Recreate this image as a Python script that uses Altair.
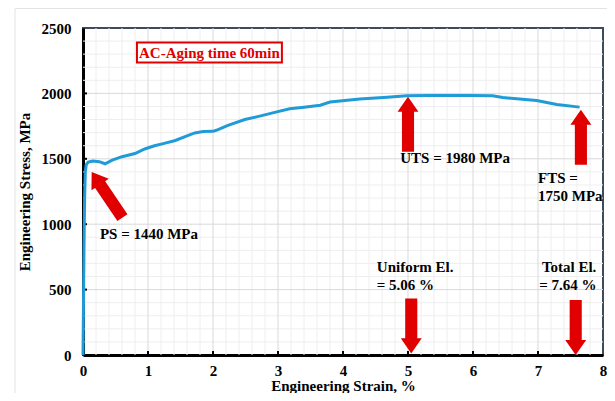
import altair as alt
import numpy as np
import pandas as pd

# --- curve data ---
strain = [0.0, 0.015, 0.025, 0.035, 0.05, 0.08, 0.15, 0.25, 0.34, 0.45, 0.6, 0.8, 0.95,
          1.1, 1.25, 1.42, 1.6, 1.72, 1.85, 2.0, 2.05, 2.23, 2.49, 2.75, 2.95, 3.18, 3.4,
          3.65, 3.8, 4.26, 4.68, 4.98, 5.3, 5.95, 6.3, 6.46, 6.98, 7.29, 7.64]
stress = [0, 800, 1200, 1400, 1455, 1475, 1483, 1478, 1462, 1490, 1516, 1540, 1575,
          1600, 1618, 1640, 1675, 1698, 1708, 1710, 1718, 1756, 1800, 1830, 1855, 1883, 1895,
          1910, 1934, 1957, 1970, 1982, 1983, 1984, 1982, 1968, 1946, 1915, 1895]

# --- annotations ---
arrow_x = [0.37, 5.0, 7.66, 5.05, 7.58]
arrow_y = [1225, 1765, 1665, 222, 210]
arrow_angle = [326, 0, 0, 180, 180]

labels = ["PS = 1440 MPa", "UTS = 1980 MPa", "FTS =", "1750 MPa",
          "Uniform El.", "= 5.06 %", "Total El.", "= 7.64 %"]
label_x = [0.26, 4.88, 7.0, 7.0, 4.52, 4.52, 7.06, 7.02]
label_y = [926, 1508, 1355, 1217, 670, 536, 670, 536]

box_text = ["AC-Aging time 60min"]
box_x = [0.83]
box_x2 = [3.06]
box_y = [2389]
box_y2 = [2236]

x_ticks = [0, 1, 2, 3, 4, 5, 6, 7, 8]
y_ticks = [0, 500, 1000, 1500, 2000, 2500]

FONT = "Liberation Serif"
RED = "#e00000"
BLUE = "#1f9bd7"

W, H = 520, 327

xs = alt.Scale(domain=[0, 8], nice=False, zero=False)
ys = alt.Scale(domain=[0, 2500], nice=False, zero=False)

minor_x = [v for v in np.round(np.arange(0.2, 8.0, 0.2), 2) if abs(v - round(v)) > 1e-6]
minor_y = [v for v in range(100, 2500, 100) if v % 500 != 0]

curve = pd.DataFrame({"strain": strain, "stress": stress})
arrows = pd.DataFrame({"x": arrow_x, "y": arrow_y, "angle": arrow_angle})
texts = pd.DataFrame({"x": label_x, "y": label_y, "t": labels})
box = pd.DataFrame({"x": box_x, "x2": box_x2, "y": box_y, "y2": box_y2, "t": box_text})

frame = alt.Chart(pd.DataFrame({"a": [0]})).mark_rect(
    fill=None, stroke="#e3e3e3", strokeWidth=1
).encode(x=alt.value(-68), x2=alt.value(530), y=alt.value(-19.5), y2=alt.value(420))

gx_minor = alt.Chart(pd.DataFrame({"v": minor_x})).mark_rule(color="#eeeeee", strokeWidth=1).encode(
    x=alt.X("v:Q", scale=xs))
gy_minor = alt.Chart(pd.DataFrame({"v": minor_y})).mark_rule(color="#eeeeee", strokeWidth=1).encode(
    y=alt.Y("v:Q", scale=ys))
gx_major = alt.Chart(pd.DataFrame({"v": x_ticks[1:-1]})).mark_rule(color="#d9d9d9", strokeWidth=1).encode(
    x=alt.X("v:Q", scale=xs))
gy_major = alt.Chart(pd.DataFrame({"v": y_ticks[1:-1]})).mark_rule(color="#d9d9d9", strokeWidth=1).encode(
    y=alt.Y("v:Q", scale=ys))

tx = alt.Chart(pd.DataFrame({"v": x_ticks[1:-1]})).mark_rule(color="black", strokeWidth=2).encode(
    x=alt.X("v:Q", scale=xs), y=alt.value(H), y2=alt.value(H - 4))
ty = alt.Chart(pd.DataFrame({"v": y_ticks[1:-1]})).mark_rule(color="black", strokeWidth=2).encode(
    y=alt.Y("v:Q", scale=ys), x=alt.value(0), x2=alt.value(4))

line = alt.Chart(curve).mark_line(color=BLUE, strokeWidth=3).encode(
    x=alt.X("strain:Q", scale=xs,
            axis=alt.Axis(values=x_ticks, format="d", title="Engineering Strain, %",
                          grid=False, ticks=False, tickSize=0, labelPadding=8, labelFlush=False,
                          domainColor="black", domainWidth=3, titlePadding=0)),
    y=alt.Y("stress:Q", scale=ys,
            axis=alt.Axis(values=y_ticks, format="d", title="Engineering Stress, MPa",
                          grid=False, ticks=False, tickSize=0, labelPadding=12, labelFlush=False,
                          domainColor="black", domainWidth=3, titlePadding=9)),
)

ARROW = "M-0.22,1 L0.22,1 L0.22,-0.45 L0.38,-0.45 L0,-1 L-0.38,-0.45 L-0.22,-0.45 Z"
arr = alt.Chart(arrows).mark_point(shape=ARROW, filled=True, color=RED, opacity=1,
                                    size=3025, strokeWidth=0).encode(
    x=alt.X("x:Q", scale=xs), y=alt.Y("y:Q", scale=ys),
    angle=alt.Angle("angle:Q", scale=None))

txt = alt.Chart(texts).mark_text(align="left", baseline="middle", font=FONT,
                                 fontSize=15, fontWeight="bold", color="black").encode(
    x=alt.X("x:Q", scale=xs), y=alt.Y("y:Q", scale=ys), text="t:N")

brect = alt.Chart(box).mark_rect(fill="white", stroke=RED, strokeWidth=2).encode(
    x=alt.X("x:Q", scale=xs), x2="x2:Q", y=alt.Y("y:Q", scale=ys), y2="y2:Q")
btxt = alt.Chart(box).transform_calculate(cx="(datum.x + datum.x2) / 2",
                                          cy="(datum.y + datum.y2) / 2").mark_text(
    align="center", baseline="middle", font=FONT, fontSize=15, fontWeight="bold", color=RED
).encode(x=alt.X("cx:Q", scale=xs), y=alt.Y("cy:Q", scale=ys), text="t:N")

chart = alt.layer(
    frame, gx_minor, gy_minor, gx_major, gy_major, tx, ty, line, arr, txt, brect, btxt
).properties(
    width=W, height=H,
    background="white",
    autosize=alt.AutoSizeParams(type="none"),
    padding={"left": 75, "top": 20, "right": 4, "bottom": 38},
).configure_view(
    stroke="#3d4b5c", strokeWidth=2
).configure_axis(
    labelFont=FONT, labelFontSize=15, labelFontWeight="bold", labelColor="black",
    titleFont=FONT, titleFontSize=15, titleFontWeight="bold", titleColor="black",
)

chart.save("out.html", embed_options={"renderer": "svg", "actions": False})
